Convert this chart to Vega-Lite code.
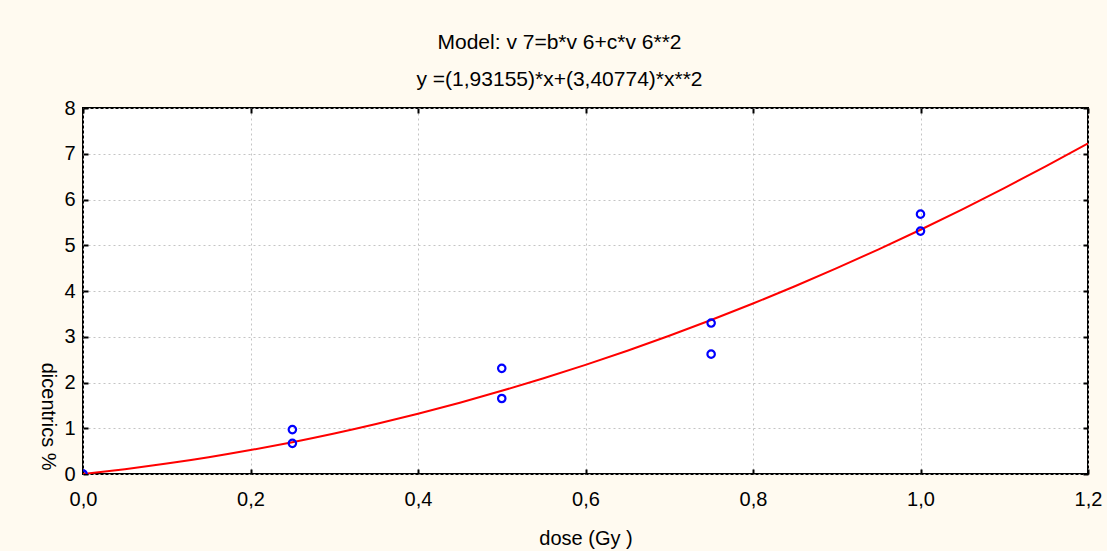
{
  "$schema": "https://vega.github.io/schema/vega-lite/v6.json",
  "autosize": "none",
  "width": 1005,
  "height": 366,
  "padding": {"left": 83, "top": 108, "right": 19, "bottom": 77},
  "background": "#fffaf0",
  "config": {
    "font": "Liberation Sans",
    "view": {"stroke": "#000000", "strokeWidth": 2, "fill": "#ffffff"},
    "axis": {
      "labelFont": "Liberation Sans",
      "titleFont": "Liberation Sans",
      "labelFontSize": 20,
      "titleFontSize": 20,
      "labelColor": "#000000",
      "titleColor": "#000000",
      "titleFontWeight": "normal",
      "domain": false,
      "tickColor": "#000000",
      "tickWidth": 2,
      "tickSize": -5,
      "gridColor": "#c4c4c4",
      "gridDash": [2, 3],
      "gridWidth": 1
    }
  },
  "title": {
    "text": ["Model:  v 7=b*v 6+c*v 6**2", "y =(1,93155)*x+(3,40774)*x**2"],
    "font": "Liberation Sans",
    "fontSize": 21,
    "fontWeight": "normal",
    "color": "#000000",
    "lineHeight": 37,
    "anchor": "middle",
    "dx": -26,
    "offset": 8
  },
  "datasets": {
    "fit": [
      {"dose": 0.0, "y": 0.0},
      {"dose": 0.05, "y": 0.105},
      {"dose": 0.1, "y": 0.227},
      {"dose": 0.15, "y": 0.366},
      {"dose": 0.2, "y": 0.523},
      {"dose": 0.25, "y": 0.696},
      {"dose": 0.3, "y": 0.886},
      {"dose": 0.35, "y": 1.094},
      {"dose": 0.4, "y": 1.318},
      {"dose": 0.45, "y": 1.559},
      {"dose": 0.5, "y": 1.818},
      {"dose": 0.55, "y": 2.093},
      {"dose": 0.6, "y": 2.386},
      {"dose": 0.65, "y": 2.695},
      {"dose": 0.7, "y": 3.022},
      {"dose": 0.75, "y": 3.366},
      {"dose": 0.8, "y": 3.726},
      {"dose": 0.85, "y": 4.104},
      {"dose": 0.9, "y": 4.499},
      {"dose": 0.95, "y": 4.911},
      {"dose": 1.0, "y": 5.339},
      {"dose": 1.05, "y": 5.785},
      {"dose": 1.1, "y": 6.248},
      {"dose": 1.15, "y": 6.728},
      {"dose": 1.2, "y": 7.225}
    ],
    "obs": [
      {"dose": 0.0, "dic": 0.0},
      {"dose": 0.25, "dic": 0.97},
      {"dose": 0.25, "dic": 0.67},
      {"dose": 0.5, "dic": 2.31},
      {"dose": 0.5, "dic": 1.65},
      {"dose": 0.75, "dic": 3.3},
      {"dose": 0.75, "dic": 2.62},
      {"dose": 1.0, "dic": 5.68},
      {"dose": 1.0, "dic": 5.31}
    ]
  },
  "layer": [
    {
      "data": {"name": "fit"},
      "mark": {"type": "line", "color": "#ff0000", "strokeWidth": 2, "interpolate": "monotone", "clip": true},
      "encoding": {
        "x": {"field": "dose", "type": "quantitative", "scale": {"domain": [0, 1.2], "nice": false},
          "axis": {"orient": "bottom", "title": "dose (Gy )", "grid": true, "values": [0, 0.2, 0.4, 0.6, 0.8, 1.0, 1.2],
            "labelExpr": "replace(format(datum.value, '.1f'), '.', ',')", "labelPadding": 20, "titlePadding": 19, "labelFlush": false}},
        "y": {"field": "y", "type": "quantitative", "scale": {"domain": [0, 8], "nice": false},
          "axis": {"orient": "left", "title": "dicentrics  %", "grid": true, "values": [0, 1, 2, 3, 4, 5, 6, 7, 8],
            "labelPadding": 13, "titleAngle": 90, "titleAlign": "right", "titleBaseline": "middle", "titleX": -36, "titleY": 362}}
      }
    },
    {
      "data": {"name": "obs"},
      "mark": {"type": "point", "shape": "circle", "filled": false, "stroke": "#0000ff", "strokeWidth": 2.2, "size": 55, "opacity": 1, "clip": true},
      "encoding": {
        "x": {"field": "dose", "type": "quantitative", "scale": {"domain": [0, 1.2], "nice": false},
          "axis": {"orient": "top", "labels": false, "title": null, "grid": false, "values": [0, 0.2, 0.4, 0.6, 0.8, 1.0, 1.2]}},
        "y": {"field": "dic", "type": "quantitative", "scale": {"domain": [0, 8], "nice": false},
          "axis": {"orient": "right", "labels": false, "title": null, "grid": false, "values": [0, 1, 2, 3, 4, 5, 6, 7, 8]}}
      }
    }
  ],
  "resolve": {"axis": {"x": "independent", "y": "independent"}}
}
